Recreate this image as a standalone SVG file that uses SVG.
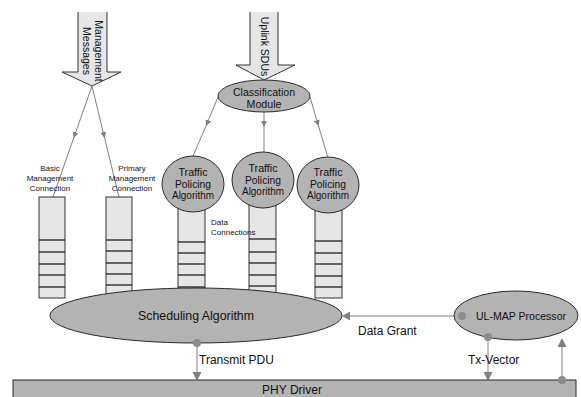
<svg xmlns="http://www.w3.org/2000/svg" width="581" height="397" viewBox="0 0 581 397">
<defs>
<style>
.ell{fill:#b3b3b3;stroke:#2a2a2a;stroke-width:1}
.q{fill:#e6e6e6;stroke:#333;stroke-width:1}
.qs{stroke:#111;stroke-width:1.2}
.bigf{fill:#e6e6e6;stroke:none}
.bigs{fill:none;stroke:#333;stroke-width:1}
.ln{fill:none;stroke:#808080;stroke-width:1}
.t{font-family:"Liberation Sans",Arial,sans-serif;fill:#111}
.dot{fill:#8c8c8c}
.ah{fill:#808080}
</style>
<marker id="sm" viewBox="0 0 10 10" refX="10" refY="5" markerWidth="6" markerHeight="6" markerUnits="userSpaceOnUse" orient="auto"><path d="M0,0 L10,5 L0,10 z" fill="#808080"/></marker>
</defs>

<g id="management-messages">
<polygon class="bigf" points="78,12 107,12 107,72 121,72 92,86 62,72 78,72"/>
<path class="bigs" d="M78,12 L78,72 L62,72 L92,86 L121,72 L107,72 L107,12"/>
<text class="t" font-size="10.5" text-anchor="middle" transform="translate(95,51) rotate(90)">Management</text>
<text class="t" font-size="10.5" text-anchor="middle" transform="translate(83,51) rotate(90)">Messages</text>
</g>

<g id="uplink-sdus">
<polygon class="bigf" points="250,12 278,12 278,65 295,65 264,80 236,65 250,65"/>
<path class="bigs" d="M250,12 L250,65 L236,65 L264,80 L295,65 L278,65 L278,12"/>
<text class="t" font-size="10.5" text-anchor="middle" transform="translate(260.5,46.5) rotate(90)">Uplink SDUs</text>
</g>

<g id="connectors">
<polyline class="ln" points="92,86 73.7,138 53,197" marker-mid="url(#sm)"/>
<polyline class="ln" points="92,86 104.6,138 119,197" marker-mid="url(#sm)"/>
<polyline class="ln" points="218,97 206,126 193,156" marker-mid="url(#sm)"/>
<polyline class="ln" points="264,112 264,127 264,152" marker-mid="url(#sm)"/>
<polyline class="ln" points="310,97 318.5,126 328,158" marker-mid="url(#sm)"/>
<line class="ln" x1="462" y1="316" x2="348" y2="316"/>
<polygon class="ah" points="342,316 350,311.5 350,320.5"/>
<line class="ln" x1="197" y1="343" x2="197" y2="374"/>
<polygon class="ah" points="197,381 192.5,372 201.5,372"/>
<line class="ln" x1="488" y1="337" x2="488" y2="374"/>
<polygon class="ah" points="488,381 483.5,372 492.5,372"/>
<line class="ln" x1="562" y1="380" x2="562" y2="345"/>
<polygon class="ah" points="562,338 557.5,347 566.5,347"/>
</g>

<g id="basic-queue">
<rect class="q" x="39" y="197" width="26" height="101"/>
<line class="qs" x1="39" y1="240" x2="65" y2="240"/>
<line class="qs" x1="39" y1="252" x2="65" y2="252"/>
<line class="qs" x1="39" y1="264" x2="65" y2="264"/>
<line class="qs" x1="39" y1="275" x2="65" y2="275"/>
<line class="qs" x1="39" y1="287" x2="65" y2="287"/>
<text class="t" font-size="8" text-anchor="middle"><tspan x="50" y="171">Basic</tspan><tspan x="50" y="181">Management</tspan><tspan x="50" y="191">Connection</tspan></text>
</g>

<g id="primary-queue">
<rect class="q" x="106" y="197" width="26" height="101"/>
<line class="qs" x1="106" y1="240" x2="132" y2="240"/>
<line class="qs" x1="106" y1="251" x2="132" y2="251"/>
<line class="qs" x1="106" y1="263" x2="132" y2="263"/>
<line class="qs" x1="106" y1="274" x2="132" y2="274"/>
<line class="qs" x1="106" y1="285" x2="132" y2="285"/>
<text class="t" font-size="8" text-anchor="middle"><tspan x="132" y="171">Primary</tspan><tspan x="132" y="181">Management</tspan><tspan x="132" y="191">Connection</tspan></text>
</g>

<g id="data-queue-1">
<rect class="q" x="178" y="200" width="27" height="98"/>
<line class="qs" x1="178" y1="242" x2="205" y2="242"/>
<line class="qs" x1="178" y1="253" x2="205" y2="253"/>
<line class="qs" x1="178" y1="264" x2="205" y2="264"/>
<line class="qs" x1="178" y1="275" x2="205" y2="275"/>
<line class="qs" x1="178" y1="287" x2="205" y2="287"/>
</g>
<g id="data-queue-2">
<rect class="q" x="249" y="200" width="27" height="98"/>
<line class="qs" x1="249" y1="239" x2="276" y2="239"/>
<line class="qs" x1="249" y1="252" x2="276" y2="252"/>
<line class="qs" x1="249" y1="263" x2="276" y2="263"/>
<line class="qs" x1="249" y1="275" x2="276" y2="275"/>
<line class="qs" x1="249" y1="286" x2="276" y2="286"/>
</g>
<g id="data-queue-3">
<rect class="q" x="315" y="200" width="27" height="98"/>
<line class="qs" x1="315" y1="241" x2="342" y2="241"/>
<line class="qs" x1="315" y1="253" x2="342" y2="253"/>
<line class="qs" x1="315" y1="264" x2="342" y2="264"/>
<line class="qs" x1="315" y1="276" x2="342" y2="276"/>
<line class="qs" x1="315" y1="287" x2="342" y2="287"/>
</g>
<text class="t" font-size="8"><tspan x="211" y="225">Data</tspan><tspan x="211" y="235">Connections</tspan></text>

<g id="classification-module">
<ellipse class="ell" cx="264" cy="96" rx="46" ry="16"/>
<text class="t" font-size="10.5" text-anchor="middle"><tspan x="264" y="95.5" textLength="62" lengthAdjust="spacingAndGlyphs">Classification</tspan><tspan x="264" y="107.5" textLength="35" lengthAdjust="spacingAndGlyphs">Module</tspan></text>
</g>

<g id="traffic-policing-1">
<ellipse class="ell" cx="193" cy="184" rx="31" ry="28"/>
<text class="t" font-size="10.5" text-anchor="middle"><tspan x="193" y="176" textLength="29" lengthAdjust="spacingAndGlyphs">Traffic</tspan><tspan x="193" y="187.5" textLength="36" lengthAdjust="spacingAndGlyphs">Policing</tspan><tspan x="193" y="199" textLength="42" lengthAdjust="spacingAndGlyphs">Algorithm</tspan></text>
</g>
<g id="traffic-policing-2">
<ellipse class="ell" cx="263" cy="180" rx="31" ry="28"/>
<text class="t" font-size="10.5" text-anchor="middle"><tspan x="263" y="172" textLength="29" lengthAdjust="spacingAndGlyphs">Traffic</tspan><tspan x="263" y="183.5" textLength="36" lengthAdjust="spacingAndGlyphs">Policing</tspan><tspan x="263" y="195" textLength="42" lengthAdjust="spacingAndGlyphs">Algorithm</tspan></text>
</g>
<g id="traffic-policing-3">
<ellipse class="ell" cx="328" cy="185" rx="31" ry="28"/>
<text class="t" font-size="10.5" text-anchor="middle"><tspan x="328" y="176" textLength="29" lengthAdjust="spacingAndGlyphs">Traffic</tspan><tspan x="328" y="187.5" textLength="36" lengthAdjust="spacingAndGlyphs">Policing</tspan><tspan x="328" y="199" textLength="42" lengthAdjust="spacingAndGlyphs">Algorithm</tspan></text>
</g>

<g id="scheduling-algorithm">
<ellipse class="ell" cx="196" cy="315.5" rx="146" ry="27.5"/>
<text class="t" font-size="12.5" text-anchor="middle" x="196" y="320" textLength="116" lengthAdjust="spacingAndGlyphs">Scheduling Algorithm</text>
<circle class="dot" cx="197" cy="343" r="4"/>
</g>

<g id="ul-map-processor">
<ellipse class="ell" cx="516" cy="315.5" rx="62" ry="24.5"/>
<text class="t" font-size="11" text-anchor="middle" x="521" y="319.5" textLength="90" lengthAdjust="spacingAndGlyphs">UL-MAP Processor</text>
<circle class="dot" cx="462" cy="316" r="4"/>
<circle class="dot" cx="488" cy="337" r="4"/>
</g>

<g id="phy-driver">
<rect class="ell" x="13" y="380" width="563" height="22"/>
<text class="t" font-size="12" text-anchor="middle" x="292" y="394">PHY Driver</text>
<circle class="dot" cx="562" cy="380" r="4"/>
</g>

<g id="labels">
<text class="t" font-size="12" x="199" y="364">Transmit PDU</text>
<text class="t" font-size="12" x="358" y="335">Data Grant</text>
<text class="t" font-size="12" x="468" y="364">Tx-Vector</text>
</g>
</svg>
